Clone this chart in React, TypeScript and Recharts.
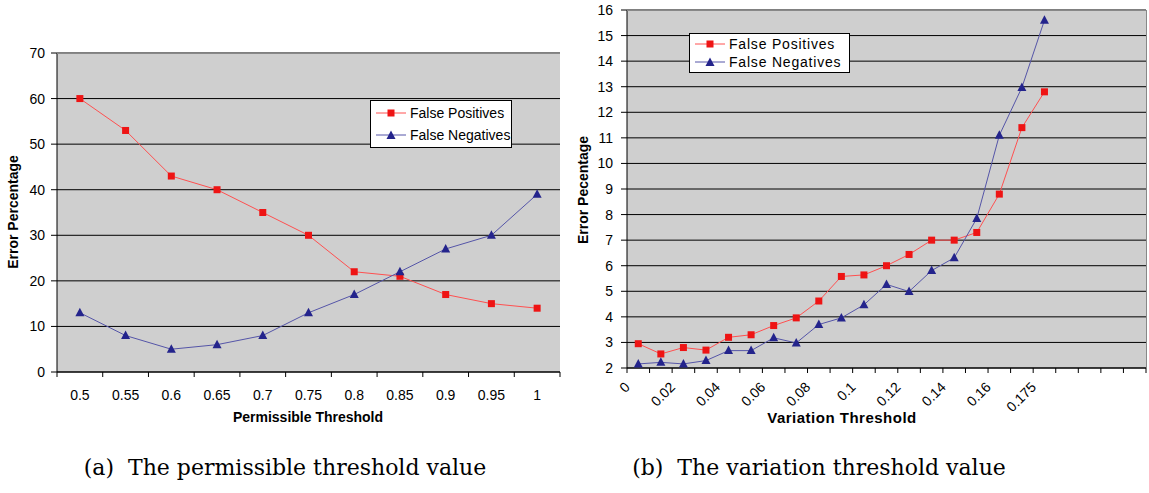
import React from 'react';
import { LineChart, Line, XAxis, YAxis, CartesianGrid, Label } from 'recharts';

// (a) permissible threshold
const permThresholds = ['0.5', '0.55', '0.6', '0.65', '0.7', '0.75', '0.8', '0.85', '0.9', '0.95', '1'];
const permFalsePositives = [60, 53, 43, 40, 35, 30, 22, 21, 17, 15, 14];
const permFalseNegatives = [13, 8, 5, 6, 8, 13, 17, 22, 27, 30, 39];
const permYTicks = [0, 10, 20, 30, 40, 50, 60, 70];

// (b) variation threshold (labels only every 2nd category, 4 empty slots at the end)
const varThresholds = ['0', '0.01', '0.02', '0.03', '0.04', '0.05', '0.06', '0.07', '0.08', '0.09', '0.1', '0.11', '0.12', '0.13', '0.14', '0.15', '0.16', '0.17', '0.175'];
const varEmptySlots = 4;
const varFalsePositives = [2.95, 2.55, 2.8, 2.7, 3.2, 3.3, 3.66, 3.96, 4.62, 5.58, 5.64, 6.0, 6.44, 7.0, 7.0, 7.3, 8.8, 11.4, 12.8];
const varFalseNegatives = [2.16, 2.22, 2.16, 2.29, 2.68, 2.68, 3.18, 2.98, 3.7, 3.96, 4.47, 5.27, 4.99, 5.81, 6.31, 7.85, 11.1, 12.97, 15.6];
const varYTicks = [2, 3, 4, 5, 6, 7, 8, 9, 10, 11, 12, 13, 14, 15, 16];

const FONT = '"Liberation Sans", Arial, sans-serif';
const PLOT_BG = '#cfcfcf';
const RED_LINE = '#ff5050';
const RED_DOT = '#ee1414';
const BLUE_LINE = '#5555a8';
const BLUE_DOT = '#24248c';

const permData = permThresholds.map((t, i) => ({
  threshold: t,
  fp: permFalsePositives[i],
  fn: permFalseNegatives[i],
}));

const varData = [...varThresholds, ...Array(varEmptySlots).fill('')].map((t, i) => ({
  slot: i,
  threshold: t,
  fp: varFalsePositives[i],
  fn: varFalseNegatives[i],
}));

const SquareDot = (props: any) => {
  const { cx, cy, index } = props;
  if (cx == null || cy == null || isNaN(cy)) return <g key={index} />;
  return <rect key={index} x={cx - 3.5} y={cy - 3.5} width={7} height={7} fill={RED_DOT} />;
};

const TriangleDot = (props: any) => {
  const { cx, cy, index } = props;
  if (cx == null || cy == null || isNaN(cy)) return <g key={index} />;
  return <path key={index} d={`M${cx},${cy - 5}L${cx + 4.5},${cy + 3.5}L${cx - 4.5},${cy + 3.5}Z`} fill={BLUE_DOT} />;
};

const makeXTick = (axisY: number, band: number, count: number, getLabel: (v: any) => string, rotate: boolean) =>
  (props: any) => {
    const { x, payload, index } = props;
    const edge = x - band / 2;
    const label = getLabel(payload.value);
    const rx = x - 7.5;
    const ry = axisY + 20;
    return (
      <g>
        <line x1={edge} x2={edge} y1={axisY} y2={axisY + 5} stroke="#000" />
        {index === count - 1 && <line x1={edge + band} x2={edge + band} y1={axisY} y2={axisY + 5} stroke="#000" />}
        {label !== '' && !rotate && (
          <text x={x} y={axisY + 28} textAnchor="middle" fontSize={14} fill="#000" fontFamily={FONT}>{label}</text>
        )}
        {label !== '' && rotate && (
          <text x={rx} y={ry} textAnchor="end" fontSize={14} fill="#000" fontFamily={FONT}
            transform={`rotate(-45, ${rx}, ${ry})`}>{label}</text>
        )}
      </g>
    );
  };

const LegendBox = ({ left, top, width, rowHeight, fontSize, spacing }: any) => (
  <div style={{ position: 'absolute', left, top, width, border: '1px solid #000', background: '#fff', boxSizing: 'border-box', padding: '1px 0 1px 5px', fontFamily: FONT, fontSize, letterSpacing: spacing, color: '#000', whiteSpace: 'nowrap' }}>
    {[{ name: 'False Positives', line: RED_LINE, square: true }, { name: 'False Negatives', line: BLUE_LINE, square: false }].map((it) => (
      <div key={it.name} style={{ display: 'flex', alignItems: 'center', height: rowHeight }}>
        <svg width={30} height={12} style={{ marginRight: 4, flex: 'none' }}>
          <line x1={0} x2={30} y1={6} y2={6} stroke={it.line} />
          {it.square
            ? <rect x={11.5} y={2.5} width={7} height={7} fill={RED_DOT} />
            : <path d="M15,1.5L19.5,10L10.5,10Z" fill={BLUE_DOT} />}
        </svg>
        <span>{it.name}</span>
      </div>
    ))}
  </div>
);

const axisTitle = (x: number, y: number, text: string, rotate: boolean, size = 14, spacing = 0) => () => (
  <text x={x} y={y} textAnchor="middle" fontSize={size} fontWeight="bold" fill="#000" fontFamily={FONT}
    letterSpacing={spacing} transform={rotate ? `rotate(-90, ${x}, ${y})` : undefined}>{text}</text>
);

const PermChart = () => {
  const band = 503 / permThresholds.length;
  return (
    <LineChart width={562} height={440} data={permData} margin={{ top: 53, right: 2, bottom: 28, left: 12 }}>
      <CartesianGrid vertical={false} stroke="#000" fill={PLOT_BG} />
      <XAxis dataKey="threshold" type="category" interval={0} height={40} tickLine={false}
        axisLine={{ stroke: '#000' }} padding={{ left: band / 2, right: band / 2 }}
        tick={makeXTick(372, band, permThresholds.length, (v) => String(v), false)}>
        <Label content={axisTitle(308, 422, 'Permissible Threshold', false)} />
      </XAxis>
      <YAxis width={45} domain={[0, 70]} ticks={permYTicks} interval={0} axisLine={{ stroke: '#000' }}
        tickLine={{ stroke: '#000' }} tickSize={6} tickMargin={6} tick={{ fontSize: 14, fill: '#000', fontFamily: FONT }}>
        <Label content={axisTitle(18, 212, 'Error Percentage', true)} />
      </YAxis>
      <Line type="linear" dataKey="fp" name="False Positives" stroke={RED_LINE} strokeWidth={1}
        dot={SquareDot} activeDot={false} isAnimationActive={false} />
      <Line type="linear" dataKey="fn" name="False Negatives" stroke={BLUE_LINE} strokeWidth={1}
        dot={TriangleDot} activeDot={false} isAnimationActive={false} />
    </LineChart>
  );
};

const VarChart = () => {
  const count = varData.length;
  const band = 519 / count;
  return (
    <LineChart width={579} height={440} data={varData} margin={{ top: 10, right: 3, bottom: 32, left: 15 }}>
      <CartesianGrid vertical={false} stroke="#000" fill={PLOT_BG} />
      <XAxis dataKey="slot" type="category" interval={0} height={40} tickLine={false}
        axisLine={{ stroke: '#000' }} padding={{ left: band / 2, right: band / 2 }}
        tick={makeXTick(368, band, count, (v) => (Number(v) % 2 === 0 ? varData[Number(v)].threshold : ''), true)}>
        <Label content={axisTitle(272, 423, 'Variation Threshold', false, 15, 0.5)} />
      </XAxis>
      <YAxis width={42} domain={[2, 16]} ticks={varYTicks} interval={0} axisLine={{ stroke: '#000' }}
        tickLine={{ stroke: '#000' }} tickSize={6} tickMargin={8} tick={{ fontSize: 14, fill: '#000', fontFamily: FONT }}>
        <Label content={axisTitle(18, 190, 'Error Pecentage', true)} />
      </YAxis>
      <Line type="linear" dataKey="fp" name="False Positives" stroke={RED_LINE} strokeWidth={1}
        dot={SquareDot} activeDot={false} isAnimationActive={false} />
      <Line type="linear" dataKey="fn" name="False Negatives" stroke={BLUE_LINE} strokeWidth={1}
        dot={TriangleDot} activeDot={false} isAnimationActive={false} />
    </LineChart>
  );
};

const captionStyle: React.CSSProperties = {
  position: 'absolute', top: 455, textAlign: 'center', fontFamily: '"DejaVu Serif", serif', fontSize: 22, color: '#000', whiteSpace: 'pre',
};

export default function App() {
  return (
    <div style={{ position: 'absolute', left: 0, top: 0, width: 1149, height: 493, background: '#fff', fontFamily: FONT }}>
      <div style={{ position: 'absolute', left: 0, top: 0 }}>
        <PermChart />
      </div>
      <div style={{ position: 'absolute', left: 570, top: 0 }}>
        <VarChart />
      </div>
      <div style={{ position: 'absolute', left: 57, top: 53, width: 503, height: 319, borderTop: '1px solid #888', pointerEvents: 'none', boxSizing: 'border-box' }} />
      <div style={{ position: 'absolute', left: 627, top: 10, width: 520, height: 358, borderTop: '1px solid #888', borderRight: '1px solid #888', pointerEvents: 'none', boxSizing: 'border-box' }} />
      <LegendBox left={370} top={100} width={142} rowHeight={22} fontSize={14} spacing={0} />
      <LegendBox left={689} top={33} width={161} rowHeight={18} fontSize={14} spacing={0.8} />
      <div style={{ ...captionStyle, left: 0, width: 570 }}>{'(a)  The permissible threshold value'}</div>
      <div style={{ ...captionStyle, left: 569, width: 500 }}>{'(b)  The variation threshold value'}</div>
    </div>
  );
}
